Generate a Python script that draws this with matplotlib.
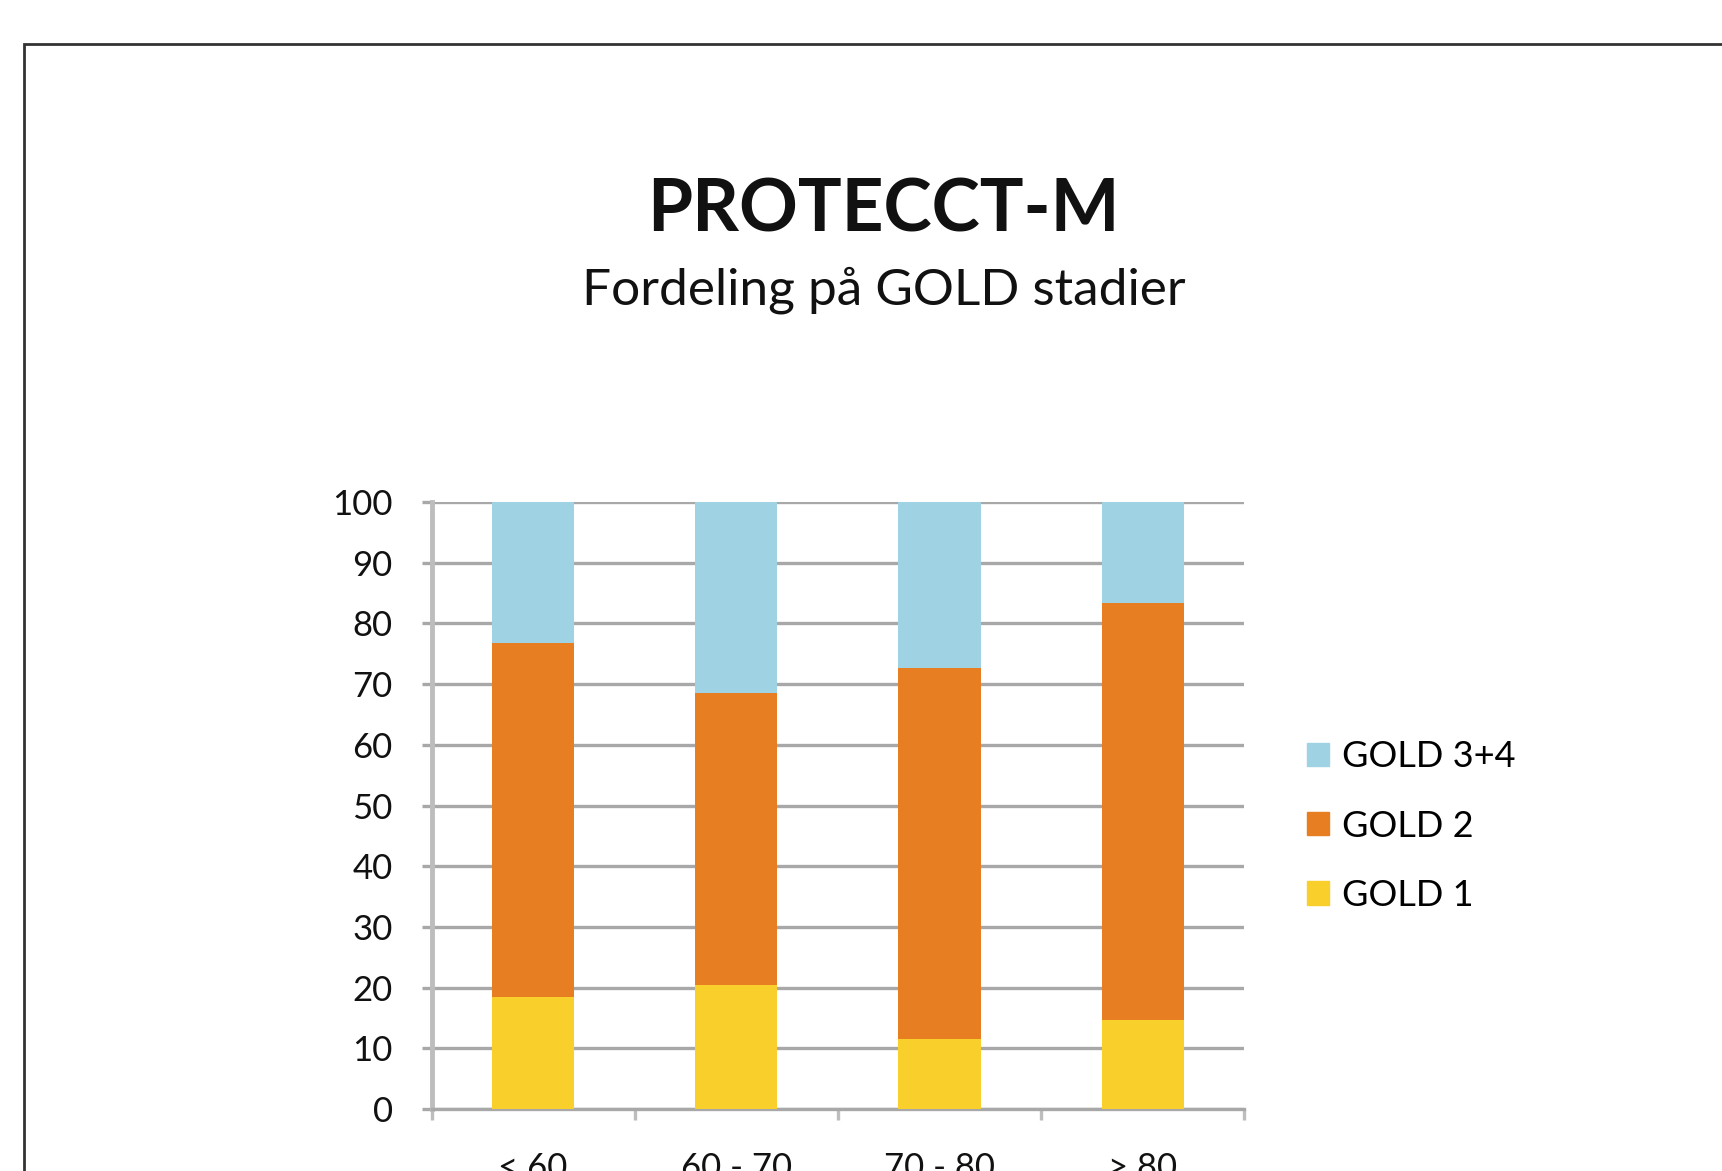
import matplotlib
matplotlib.use("Agg")
import matplotlib.pyplot as plt
from matplotlib.patches import Rectangle, Patch
import numpy as np

plt.rcParams['font.family'] = ['Lato', 'DejaVu Sans']

categories = ["< 60", "60 - 70", "70 - 80", "> 80"]
gold1 = [18.5, 20.4, 11.6, 14.7]
gold2 = [58.3, 48.2, 61.1, 68.6]
gold34 = [23.2, 31.4, 27.3, 16.7]
series_names = ["GOLD 1", "GOLD 2", "GOLD 3+4"]
colors = ["#F9CF2B", "#E77F22", "#9FD3E4"]
yticks = [0, 10, 20, 30, 40, 50, 60, 70, 80, 90, 100]

fig = plt.figure(figsize=(17.22, 11.71), dpi=100)
fig.patch.set_facecolor("white")

# outer frame
fig.patches.append(Rectangle((24/1722, -0.1), 1.2, 1 - 44/1171 + 0.1,
                             transform=fig.transFigure, fill=False,
                             edgecolor="#333333", linewidth=2.0))

ax = fig.add_axes([0.2506, 0.0529, 0.4720, 0.5184])
x = np.arange(len(categories))
w = 0.405
ax.bar(x, gold1, w, color=colors[0], zorder=3, label=series_names[0])
ax.bar(x, gold2, w, bottom=gold1, color=colors[1], zorder=3, label=series_names[1])
bottom3 = [a + b for a, b in zip(gold1, gold2)]
ax.bar(x, gold34, w, bottom=bottom3, color=colors[2], zorder=3, label=series_names[2])

grid_c = "#A8A8A8"
axis_c = "#BDBDBD"
ax.set_xlim(-0.5, 3.5)
ax.set_ylim(0, 100)
ax.set_yticks(yticks)
ax.set_yticklabels([str(v) for v in yticks], fontsize=25, color="#111111")
ax.yaxis.grid(True, color=grid_c, linewidth=2.4, zorder=0)
ax.set_axisbelow(True)
for s in ["top", "right"]:
    ax.spines[s].set_visible(False)
ax.spines["left"].set_color(axis_c)
ax.spines["left"].set_linewidth(3.5)
ax.spines["bottom"].set_color(grid_c)
ax.spines["bottom"].set_linewidth(2.4)
ax.tick_params(axis="y", direction="out", length=7, width=2.4, color=grid_c, pad=21)
ax.set_xticks(x)
ax.set_xticklabels(categories, fontsize=25, color="#111111")
ax.tick_params(axis="x", which="major", length=0, pad=31)
ax.set_xticks(np.arange(-0.5, 4.0, 1.0), minor=True)
ax.tick_params(axis="x", which="minor", direction="out", length=8, width=2.4, color=axis_c)

fig.text(0.513, 0.8195, "PROTECCT-M", fontsize=52.5, fontweight="bold",
         ha="center", va="center", color="#111111")
fig.text(0.513, 0.752, "Fordeling på GOLD stadier", fontsize=37,
         ha="center", va="center", color="#111111")

handles = [Patch(color=colors[2]), Patch(color=colors[1]), Patch(color=colors[0])]
labels = [series_names[2], series_names[1], series_names[0]]
ax.legend(handles, labels, loc="center left", bbox_to_anchor=(1307/1722, 1 - 826/1171),
          bbox_transform=fig.transFigure, frameon=False, fontsize=26,
          handlelength=0.62, handleheight=0.62, handletextpad=0.36,
          labelspacing=1.0, borderpad=0, borderaxespad=0)

fig.savefig("out.png", dpi=100)
